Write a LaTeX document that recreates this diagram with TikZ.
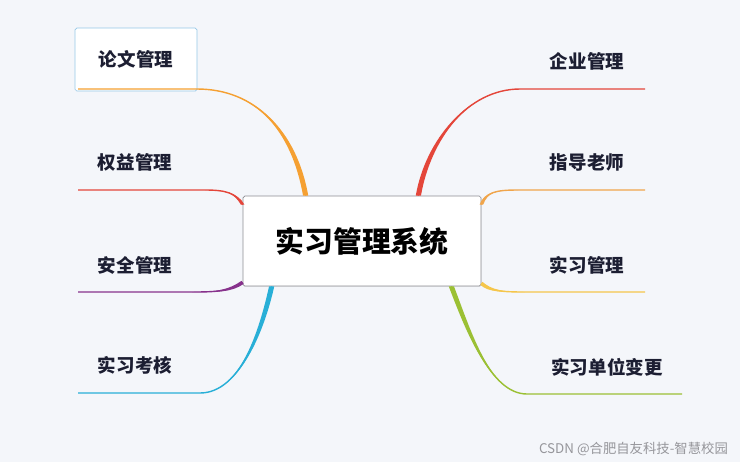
\documentclass[tikz,border=0pt]{standalone}
\usepackage{fontspec}
\setmainfont{Noto Sans CJK SC}
\usepackage{xcolor}
\usepackage{tikz}
\usetikzlibrary{calc, shadows}
\definecolor{bgpale}{RGB}{244, 246, 250}
\definecolor{inkdark}{RGB}{28, 30, 50}
\definecolor{boxgray}{RGB}{140, 140, 146}
\definecolor{tagblue}{RGB}{150, 200, 232}
\definecolor{twigorange}{RGB}{245, 160, 50}
\definecolor{twigred}{RGB}{228, 70, 58}
\definecolor{twigpurple}{RGB}{135, 50, 140}
\definecolor{twigcyan}{RGB}{40, 175, 215}
\definecolor{twigamber}{RGB}{240, 165, 75}
\definecolor{twigyellow}{RGB}{245, 198, 75}
\definecolor{twiggreen}{RGB}{155, 192, 52}
\definecolor{markgray}{RGB}{150, 150, 155}

% branch: colour, start, control 1, control 2, bend, end, half width
\newcommand{\twig}[7]{%
  \fill[#1] ($(#2)+(#7)$) .. controls ($(#3)+(#7)$) and (#4) .. (#5)
    .. controls (#4) and ($(#3)-(#7)$) .. ($(#2)-(#7)$) -- cycle;
  \draw[#1, line width=1.2pt] (#2) .. controls (#3) and (#4) .. (#5) -- (#6);}

\tikzset{
  leaf/.style={font=\fontsize{15.8}{18}\selectfont\bfseries, text=inkdark},
}

\begin{document}
\begin{tikzpicture}[x=0.03cm, y=-0.03cm]

\fill[bgpale] (0,0) rectangle (740,462);
\useasboundingbox (0,0) rectangle (740,462);

% Centre: the system
\node[draw=boxgray, fill=white, rounded corners=1.5pt, line width=0.6pt,
      minimum width=7.14cm, minimum height=2.7cm,
      drop shadow={opacity=0.12, shadow xshift=0.6pt, shadow yshift=-0.8pt},
      font=\fontsize{24.6}{28}\selectfont\bfseries, text=black]
    (sys) at (362, 241) {实习管理系统};

\coordinate (thesis-s)   at ($(sys.north west)+(63,0)$);
\coordinate (rights-s)   at ($(sys.north west)+(0,9)$);
\coordinate (safety-s)   at ($(sys.south west)+(0,-4)$);
\coordinate (assess-s)   at ($(sys.south west)+(29,0)$);
\coordinate (firm-s)     at ($(sys.north east)+(-63,0)$);
\coordinate (tutor-s)    at ($(sys.north east)+(0,9)$);
\coordinate (intern-s)   at ($(sys.south east)+(0,-3)$);
\coordinate (transfer-s) at ($(sys.south east)+(-30,0)$);

% Left side
\node[leaf, draw=tagblue, line width=0.6pt, fill=white, rounded corners=1.5pt,
      minimum width=3.66cm, minimum height=1.89cm] (thesis) at (136, 59.5) {论文管理};
\node[leaf] (rights) at (135, 162) {权益管理};
\node[leaf] (safety) at (135, 265) {安全管理};
\node[leaf] (assess) at (135, 365) {实习考核};

\coordinate (thesis-e) at (78, 89);
\coordinate (rights-e) at (78, 190);
\coordinate (safety-e) at (78, 292);
\coordinate (assess-e) at (78, 393);

\twig{twigorange}{thesis-s}{294,130}{255,89}{197,89}{thesis-e}{2.6,0}
\twig{twigred}{rights-s}{236,193}{226,190}{205,190}{rights-e}{1.8,0}
\twig{twigpurple}{safety-s}{230,291}{218,292}{192,292}{safety-e}{1.1,1.5}
\twig{twigcyan}{assess-s}{262,330}{240,393}{200,393}{assess-e}{2.6,0}

% Right side
\node[leaf] (firm)     at (587, 61)  {企业管理};
\node[leaf] (tutor)    at (587, 162) {指导老师};
\node[leaf] (intern)   at (587, 265) {实习管理};
\node[leaf] (transfer) at (607, 367) {实习单位变更};

\coordinate (firm-e)     at (645, 89);
\coordinate (tutor-e)    at (645, 190);
\coordinate (intern-e)   at (645, 292);
\coordinate (transfer-e) at (682, 394);

\twig{twigred}{firm-s}{428,140}{468,89}{520,89}{firm-e}{2.6,0}
\twig{twigamber}{tutor-s}{486,192}{496,190}{518,190}{tutor-e}{1.8,0}
\twig{twigyellow}{intern-s}{490,291}{502,292}{525,292}{intern-e}{-1.1,1.5}
\twig{twiggreen}{transfer-s}{468,330}{490,394}{527,394}{transfer-e}{2.6,0}

% Watermark
\node[font=\fontsize{11.4}{13}\selectfont, text=markgray, anchor=east]
    (mark) at (732, 449) {CSDN @合肥自友科技-智慧校园};

\end{tikzpicture}
\end{document}
